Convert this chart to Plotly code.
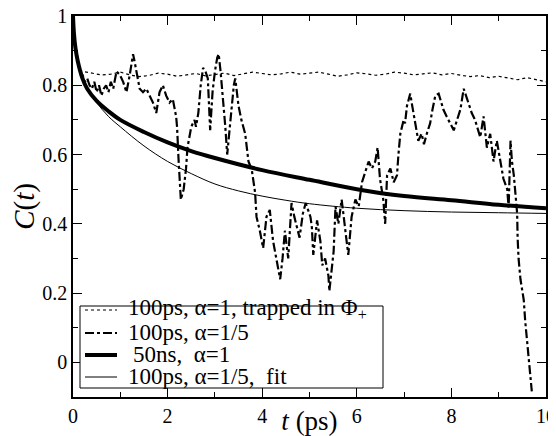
import plotly.graph_objects as go

# ---- data ----
t_trap = [0, 0.05, 0.1, 0.15, 0.2, 0.4, 0.6, 0.8, 1.0, 1.2, 1.4, 1.6, 1.8, 2.0, 2.2, 2.4, 2.6, 2.8, 3.0,
          3.2, 3.4, 3.6, 3.8, 4.0, 4.2, 4.4, 4.6, 4.8, 5.0, 5.2, 5.4, 5.6, 5.8, 6.0, 6.2, 6.4, 6.6, 6.8,
          7.0, 7.2, 7.4, 7.6, 7.8, 8.0, 8.2, 8.4, 8.6, 8.8, 9.0, 9.2, 9.4, 9.6, 9.8, 10.0]
c_trap = [1.0, 0.9, 0.86, 0.845, 0.84, 0.835, 0.83, 0.832, 0.838, 0.83, 0.825, 0.828, 0.835, 0.832, 0.826,
          0.83, 0.834, 0.827, 0.83, 0.835, 0.828, 0.832, 0.838, 0.834, 0.83, 0.833, 0.838, 0.832, 0.835,
          0.838, 0.832, 0.826, 0.83, 0.836, 0.833, 0.829, 0.832, 0.838, 0.835, 0.83, 0.833, 0.836, 0.83,
          0.834, 0.829, 0.825, 0.828, 0.822, 0.826, 0.82, 0.816, 0.822, 0.815, 0.81]

t_a5 = [0, 0.03, 0.06, 0.1, 0.15, 0.2, 0.25, 0.3, 0.35, 0.4, 0.45, 0.5, 0.55, 0.6, 0.65, 0.7, 0.75, 0.8,
        0.85, 0.92, 0.99, 1.06, 1.13, 1.2, 1.27, 1.3, 1.34, 1.41, 1.48, 1.55, 1.62, 1.69, 1.76, 1.83, 1.9,
        1.97, 2.04, 2.11, 2.18, 2.2, 2.23, 2.25, 2.28, 2.34, 2.39, 2.42, 2.5, 2.57, 2.6, 2.65, 2.7, 2.75,
        2.8, 2.85, 2.9, 2.95, 3.0, 3.05, 3.08, 3.12, 3.18, 3.22, 3.26, 3.3, 3.35, 3.4, 3.43, 3.47, 3.5,
        3.56, 3.64, 3.71, 3.78, 3.85, 3.88, 3.95, 4.02, 4.09, 4.16, 4.23, 4.3, 4.34, 4.38, 4.43, 4.48,
        4.55, 4.62, 4.68, 4.72, 4.79, 4.86, 4.92, 4.97, 5.02, 5.05, 5.08, 5.12, 5.16, 5.23, 5.27, 5.33,
        5.4, 5.42, 5.46, 5.51, 5.55, 5.61, 5.68, 5.75, 5.82, 5.89, 5.97, 6.04, 6.11, 6.18, 6.25, 6.32,
        6.39, 6.44, 6.49, 6.56, 6.6, 6.64, 6.71, 6.78, 6.85, 6.88, 6.92, 6.99, 7.02, 7.06, 7.13, 7.16,
        7.23, 7.3, 7.37, 7.42, 7.48, 7.55, 7.6, 7.66, 7.73, 7.78, 7.83, 7.9, 7.94, 8.0, 8.05, 8.12, 8.19,
        8.26, 8.31, 8.36, 8.43, 8.5, 8.54, 8.61, 8.68, 8.75, 8.82, 8.89, 8.96, 9.03, 9.1, 9.18, 9.21,
        9.25, 9.28, 9.32, 9.35, 9.39, 9.4, 9.42, 9.46, 9.53, 9.56, 9.6, 9.63, 9.67, 9.7]
c_a5 = [1.0, 0.93, 0.9, 0.87, 0.84, 0.83, 0.81, 0.82, 0.8, 0.79, 0.81, 0.78, 0.8, 0.77, 0.79, 0.8, 0.78,
        0.81, 0.79, 0.84, 0.83, 0.81, 0.78, 0.83, 0.89, 0.87, 0.84, 0.79, 0.78, 0.79, 0.77, 0.75, 0.72,
        0.78, 0.80, 0.77, 0.75, 0.76, 0.71, 0.68, 0.59, 0.52, 0.47, 0.50, 0.56, 0.62, 0.68, 0.70, 0.68,
        0.72, 0.80, 0.85, 0.84, 0.82, 0.67, 0.78, 0.84, 0.88, 0.89, 0.84, 0.75, 0.68, 0.60, 0.66, 0.72,
        0.80, 0.82, 0.77, 0.74, 0.70, 0.66, 0.58, 0.556, 0.49, 0.42, 0.38, 0.33, 0.42, 0.44, 0.35, 0.30,
        0.27, 0.24, 0.30, 0.38, 0.30, 0.46, 0.42, 0.40, 0.36, 0.43, 0.46, 0.44, 0.42, 0.39, 0.31, 0.36,
        0.41, 0.35, 0.28, 0.30, 0.25, 0.206, 0.26, 0.32, 0.45, 0.40, 0.47, 0.38, 0.31, 0.42, 0.47, 0.45,
        0.52, 0.55, 0.58, 0.56, 0.58, 0.62, 0.53, 0.47, 0.40, 0.54, 0.56, 0.52, 0.54, 0.60, 0.66, 0.70,
        0.69, 0.74, 0.776, 0.75, 0.69, 0.64, 0.66, 0.63, 0.66, 0.69, 0.73, 0.77, 0.776, 0.75, 0.73, 0.71,
        0.70, 0.685, 0.67, 0.70, 0.73, 0.79, 0.77, 0.75, 0.72, 0.70, 0.68, 0.65, 0.71, 0.62, 0.66, 0.58,
        0.64, 0.58, 0.53, 0.50, 0.447, 0.64, 0.58, 0.54, 0.50, 0.43, 0.36, 0.30, 0.24, 0.18, 0.12, 0.066,
        0.008, -0.045, -0.084]

t_50ns = [0, 0.02, 0.05, 0.1, 0.2, 0.3, 0.5, 0.75, 1.0, 1.5, 2.0, 2.5, 3.0, 4.0, 5.0, 6.0, 7.0, 8.0, 9.0, 10.0]
c_50ns = [1.0, 0.95, 0.91, 0.87, 0.82, 0.79, 0.755, 0.725, 0.70, 0.665, 0.635, 0.61, 0.59, 0.555, 0.527,
          0.50, 0.48, 0.468, 0.455, 0.445]

t_fit = [0, 0.02, 0.05, 0.1, 0.2, 0.3, 0.5, 0.75, 1.0, 1.5, 2.0, 2.5, 3.0, 3.5, 4.0, 4.5, 5.0, 6.0, 7.0,
         8.0, 9.0, 10.0]
c_fit = [1.0, 0.95, 0.91, 0.87, 0.82, 0.79, 0.75, 0.71, 0.68, 0.625, 0.58, 0.545, 0.515, 0.495, 0.48,
         0.468, 0.458, 0.445, 0.438, 0.434, 0.432, 0.43]

labels = ["100ps, α=1, trapped in Φ<sub>+</sub>", "100ps, α=1/5", "50ns,  α=1", "100ps, α=1/5,  fit"]

FONT = "Liberation Serif, Times New Roman, serif"
OFF = 8                      # page body margin of the browser
W, H = 556 - OFF, 436 - OFF
ML, MR, MT, MB = 73 - OFF, 10, 16 - OFF, 39
PW, PH = W - ML - MR, H - MT - MB

def px(xp):                  # screen pixel -> paper fraction
    return (xp - OFF - ML) / PW

def py(yp):
    return (H - MB - (yp - OFF)) / PH

styles = [dict(color="black", width=1.2, dash="dot"),
          dict(color="black", width=2.2, dash="dashdot"),
          dict(color="black", width=4),
          dict(color="black", width=1)]

fig = go.Figure()
fig.add_trace(go.Scatter(x=t_trap, y=c_trap, mode="lines", name=labels[0], line=styles[0]))
fig.add_trace(go.Scatter(x=t_a5, y=c_a5, mode="lines", name=labels[1], line=styles[1]))
fig.add_trace(go.Scatter(x=t_50ns, y=c_50ns, mode="lines", name=labels[2], line_shape="spline", line=styles[2]))
fig.add_trace(go.Scatter(x=t_fit, y=c_fit, mode="lines", name=labels[3], line_shape="spline", line=styles[3]))

axis_common = dict(showline=True, linecolor="black", linewidth=1.5, mirror="ticks",
                   ticks="inside", ticklen=9, tickwidth=1, tickcolor="black",
                   showgrid=False, zeroline=False, automargin=False, ticklabeloverflow="allow",
                   tickfont=dict(family=FONT, size=20, color="black"))

fig.update_xaxes(range=[0, 10], tick0=0, dtick=2,
                 minor=dict(dtick=1, ticks="inside", ticklen=5, tickcolor="black", tickwidth=1),
                 title=dict(text="<i>t</i> (ps)", font=dict(family=FONT, size=27, color="black"), standoff=0),
                 **axis_common)
fig.update_yaxes(range=[-0.1, 1], tick0=0, dtick=0.2,
                 minor=dict(dtick=0.1, tick0=0, ticks="inside", ticklen=5, tickcolor="black", tickwidth=1),
                 title=dict(text="<i>C</i>(<i>t</i>)", font=dict(family=FONT, size=29, color="black"), standoff=6),
                 **axis_common)

# ---- hand-built legend (compact row spacing like the original) ----
shapes = [dict(type="rect", xref="paper", yref="paper", x0=px(80), x1=px(383), y0=py(388), y1=py(306),
               line=dict(color="black", width=1), fillcolor="white", layer="above")]
row_y = [310, 333, 355, 377]
text_y = [309, 332, 354, 376]
text_x = [126, 126, 131, 126]
annotations = []
for i in range(4):
    shapes.append(dict(type="line", xref="paper", yref="paper", x0=px(85), x1=px(117),
                       y0=py(row_y[i]), y1=py(row_y[i]), line=styles[i], layer="above"))
    annotations.append(dict(text=labels[i], xref="paper", yref="paper", x=px(text_x[i]), y=py(text_y[i]),
                            xanchor="left", yanchor="middle", showarrow=False,
                            font=dict(family=FONT, size=23, color="black")))

fig.update_layout(
    width=W, height=H, autosize=False,
    margin=dict(l=ML, r=MR, t=MT, b=MB),
    plot_bgcolor="white", paper_bgcolor="white",
    font=dict(family=FONT, color="black"),
    showlegend=False,
    shapes=shapes, annotations=annotations,
)

fig.write_html("out.html")
